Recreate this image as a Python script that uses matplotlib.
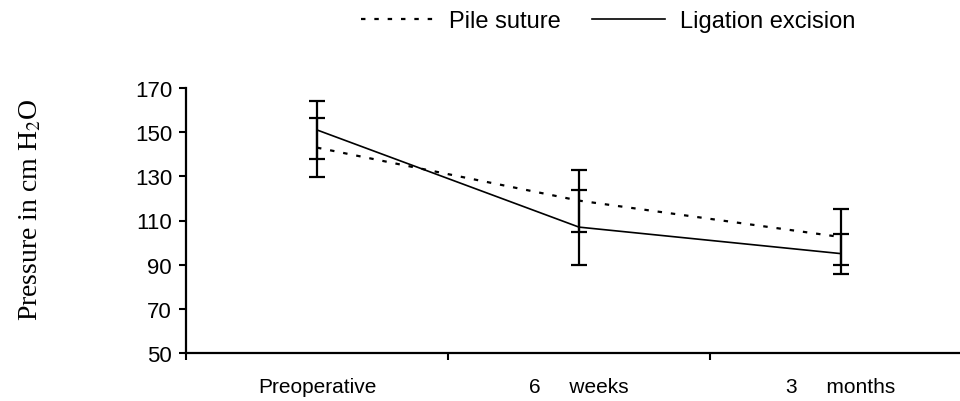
import matplotlib.pyplot as plt
import numpy as np

plt.rcParams['font.family'] = ['Liberation Sans', 'DejaVu Sans']
plt.rcParams['mathtext.fontset'] = 'stix'

# data
periods = ['Preoperative', '6     weeks', '3     months']
pile_suture = [143, 119, 102.5]
pile_suture_err = [13.5, 14, 12.5]
ligation_excision = [151, 107, 95]
ligation_excision_err = [13, 17, 9]

x = np.arange(len(periods))

fig = plt.figure(figsize=(9.6, 4.02), dpi=100)
ax = fig.add_axes([186 / 960, 1 - 354 / 402, 786 / 960, 265 / 402])

ax.errorbar(x, pile_suture, yerr=pile_suture_err, color='black',
            linestyle=(0, (2, 4)), linewidth=1.6, elinewidth=1.6,
            capsize=5.5, capthick=1.6, label='Pile suture')
ax.errorbar(x, ligation_excision, yerr=ligation_excision_err, color='black',
            linestyle='-', linewidth=1.2, elinewidth=1.6,
            capsize=5.5, capthick=1.6, label='Ligation excision')

ax.set_xlim(-0.5, 2.5)
ax.set_ylim(50, 170)
ax.set_yticks(np.arange(50, 171, 20))
ax.set_xticks(np.arange(-0.5, 3, 1))
ax.set_xticklabels([])
ax.set_xticks(x, minor=True)
ax.set_xticklabels(periods, minor=True)
ax.tick_params(axis='x', which='minor', length=0, pad=17, labelsize=15)
ax.tick_params(axis='x', which='major', length=5, width=1.5, direction='out')
ax.tick_params(axis='y', length=5, width=1.5, direction='out', pad=5, labelsize=16)

for side in ['top', 'right']:
    ax.spines[side].set_visible(False)
for side in ['left', 'bottom']:
    ax.spines[side].set_linewidth(1.6)

fig.text(31 / 960, 1 - 210 / 402, 'Pressure in cm H$_2$O', rotation=90,
         ha='center', va='center', fontsize=20, family='Liberation Serif')

handles, labels = ax.get_legend_handles_labels()
handles = [h[0] for h in handles]
fig.legend(handles, labels, loc='center', bbox_to_anchor=(608 / 960, 1 - 22 / 402),
           ncol=2, frameon=False, fontsize=17, handlelength=3.1,
           handletextpad=0.65, columnspacing=1.3)

fig.savefig('out.png', dpi=100)
